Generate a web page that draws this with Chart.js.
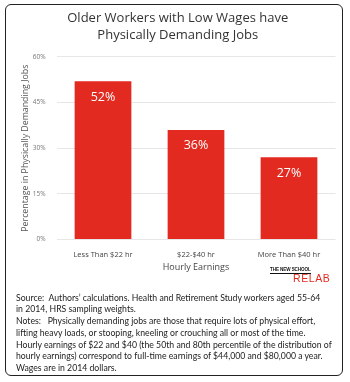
<!DOCTYPE html>
<html>
<head>
<meta charset="utf-8">
<script src="https://cdn.jsdelivr.net/npm/chart.js@4/dist/chart.umd.min.js"></script>
<style>
  html, body { margin: 0; padding: 0; background: #fff; }
  body { width: 350px; height: 382px; position: relative; overflow: hidden; font-family: "Open Sans", sans-serif; }
  #frame {
    position: absolute; left: 5px; top: 4px; width: 335.5px; height: 370px;
    border: 1.5px solid #222; border-radius: 6px;
  }
  #chartBox { position: absolute; left: 1px; top: 1px; width: 335px; height: 280px; }
  #notes {
    position: absolute; left: 10px; top: 286.5px; white-space: nowrap;
    font-family: "Lato", sans-serif; font-size: 8.7px; line-height: 11.8px; color: #222;
  }
  #logo { position: absolute; left: 264px; top: 262px; width: 70px; height: 24px; }
  #logo .school {
    position: absolute; left: 0; top: 0;
    font-family: "Liberation Sans Narrow", "Liberation Sans", sans-serif; font-weight: bold;
    font-size: 4.6px; letter-spacing: -0.1px; color: #111; border-bottom: 1px solid #111;
    line-height: 5px; padding-bottom: 1px; white-space: nowrap;
  }
  #logo .relab {
    position: absolute; left: 23px; top: 6px; line-height: 11px;
    font-family: "Liberation Sans", sans-serif; font-size: 10.5px; color: #e32a21; letter-spacing: 0.6px;
  }
</style>
</head>
<body>
<div id="frame">
  <div id="chartBox"><canvas id="chart"></canvas></div>
  <div id="logo"><span class="school">THE NEW SCHOOL</span><span class="relab">RELAB</span></div>
  <div id="notes">
    Source:&nbsp; Authors’ calculations. Health and Retirement Study workers aged 55-64<br>
    in 2014, HRS sampling weights.<br>
    Notes:&nbsp;&nbsp; Physically demanding jobs are those that require lots of physical effort,<br>
    lifting heavy loads, or stooping, kneeling or crouching all or most of the time.<br>
    Hourly earnings of $22 and $40 (the 50th and 80th percentile of the distribution of<br>
    hourly earnings) correspond to full-time earnings of $44,000 and $80,000 a year.<br>
    Wages are in 2014 dollars.
  </div>
</div>
<script>
const categories = ["Less Than $22 hr", "$22-$40 hr", "More Than $40 hr"];
const shares = [52, 36, 27];
const yTicks = [0, 15, 30, 45, 60];

const barRed = "#e32a21";

const barLabels = {
  id: "barLabels",
  afterDatasetsDraw(chart) {
    const ctx = chart.ctx;
    const meta = chart.getDatasetMeta(0);
    ctx.save();
    ctx.fillStyle = "#ffffff";
    ctx.font = "12.5px 'Open Sans', sans-serif";
    ctx.textAlign = "center";
    ctx.textBaseline = "middle";
    meta.data.forEach((bar, i) => {
      ctx.fillText(shares[i] + "%", bar.x, bar.y + 16);
    });
    ctx.restore();
  }
};

new Chart(document.getElementById("chart"), {
  type: "bar",
  data: {
    labels: categories,
    datasets: [{
      data: shares,
      backgroundColor: barRed,
      barPercentage: 0.61,
      categoryPercentage: 1
    }]
  },
  options: {
    responsive: true,
    maintainAspectRatio: false,
    animation: false,
    layout: { padding: { left: 13, right: 6.5, top: 0, bottom: 13 } },
    plugins: {
      legend: { display: false },
      tooltip: { enabled: false },
      title: {
        display: true,
        text: ["Older Workers with Low Wages have", "Physically Demanding Jobs"],
        color: "#333",
        font: { family: "'Open Sans', sans-serif", size: 13, weight: "normal", lineHeight: 1.3 },
        padding: { top: 4, bottom: 13 }
      }
    },
    scales: {
      x: {
        afterFit(scale) {
          scale.height = 33.5;
        },
        grid: { display: false },
        border: { display: false },
        ticks: { color: "#444", font: { family: "'Open Sans', sans-serif", size: 7.5 }, padding: 3 },
        title: {
          display: true,
          text: "Hourly Earnings",
          color: "#444",
          font: { family: "'Open Sans', sans-serif", size: 9 },
          padding: { top: 0, bottom: 0 }
        }
      },
      y: {
        min: 0,
        max: 60,
        afterBuildTicks(scale) {
          scale.ticks = yTicks.map((v) => ({ value: v }));
        },
        afterFit(scale) {
          scale.width = 36.5;
        },
        grid: { color: "#e6e6e6", drawTicks: false, lineWidth: 1 },
        border: { display: false },
        ticks: {
          color: "#777",
          font: { family: "'Open Sans', sans-serif", size: 6.5 },
          padding: 11,
          callback: (v) => v + "%"
        },
        title: {
          display: true,
          text: "Percentage in Physically Demanding Jobs",
          color: "#555",
          font: { family: "'Open Sans', sans-serif", size: 8.8 },
          padding: { top: 0, bottom: 4 }
        }
      }
    }
  },
  plugins: [barLabels]
});
</script>
</body>
</html>
